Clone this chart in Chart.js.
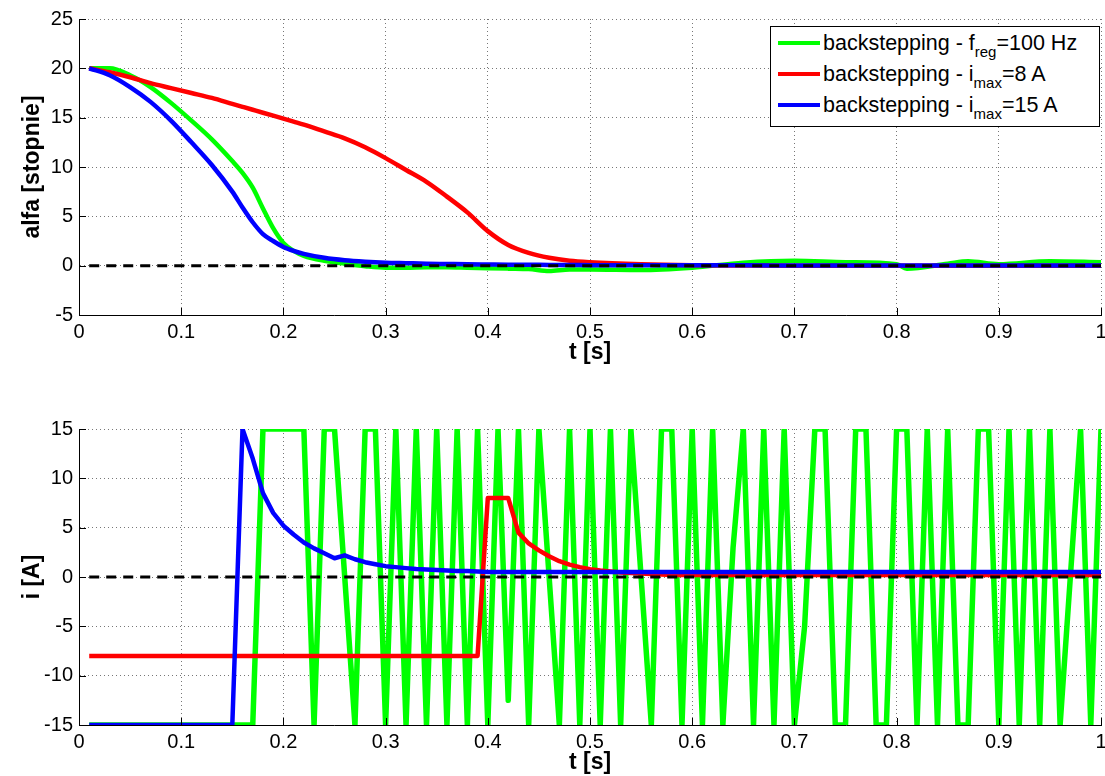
<!DOCTYPE html>
<html>
<head>
<meta charset="utf-8">
<script src="https://cdn.jsdelivr.net/npm/chart.js@4"></script>
<style>
  body { margin: 0; background: #fff; overflow: hidden; }
  #wrap { position: relative; width: 1105px; height: 776px; font-family: "Liberation Sans", Arial, sans-serif; }
  canvas { position: absolute; left: 0; }
  #alfaChart { top: 0; }
  #currentChart { top: 388px; }
  #legend { position: absolute; left: 770px; top: 26px; width: 330px; height: 101px; border: 1px solid #000; background: #fff; box-sizing: border-box; }
  .row { position: absolute; left: 7px; height: 31px; line-height: 31px; font-size: 21.5px; color: #000; white-space: nowrap; }
  .swatch { display: inline-block; width: 42px; height: 4px; margin-right: 3px; vertical-align: middle; position: relative; top: -1px; }
  .row sub { font-size: 15px; vertical-align: -7px; line-height: 0; }
</style>
</head>
<body>
<div id="wrap">
  <canvas id="alfaChart" width="1105" height="388"></canvas>
  <canvas id="currentChart" width="1105" height="388"></canvas>
  <div id="legend">
    <div class="row" style="top:1px"><span class="swatch" style="background:#00ff00"></span>backstepping - f<sub>reg</sub>=100 Hz</div>
    <div class="row" style="top:32px"><span class="swatch" style="background:#ff0000"></span>backstepping - i<sub>max</sub>=8 A</div>
    <div class="row" style="top:63px"><span class="swatch" style="background:#0000ff"></span>backstepping - i<sub>max</sub>=15 A</div>
  </div>
</div>
<script>
// --- kąt alfa [stopnie] ---
const tAlfa = [0.01, 0.03, 0.05, 0.07, 0.09, 0.11, 0.13, 0.15, 0.16, 0.17,
               0.18, 0.19, 0.20, 0.21, 0.22, 0.24, 0.26, 0.28, 0.30, 0.32,
               0.34, 0.36, 0.38, 0.40, 0.42, 0.44, 0.46, 0.48, 0.50, 0.55,
               0.60, 0.65, 0.70, 0.75, 0.80, 0.81, 0.85, 0.87, 0.90, 0.95, 1.00];
const alfaFreg100 = [20, 20.0, 19.3, 18.1, 16.5, 14.7, 12.8, 10.6, 9.4, 7.9,
                     5.8, 3.8, 2.3, 1.5, 1.0, 0.5, 0.2, -0.05, -0.2, -0.2,
                     -0.15, -0.15, -0.2, -0.25, -0.3, -0.35, -0.55, -0.4, -0.4, -0.45,
                     -0.2, 0.3, 0.5, 0.35, 0.15, -0.3, 0.2, 0.45, 0.15, 0.45, 0.35];
const alfaImax8 = [20, 19.6, 19.1, 18.5, 18.0, 17.5, 17.0, 16.4, 16.1, 15.8,
                   15.5, 15.2, 14.9, 14.6, 14.3, 13.6, 12.9, 12.0, 10.9, 9.7,
                   8.5, 7.0, 5.4, 3.5, 2.1, 1.3, 0.8, 0.5, 0.35, 0.15,
                   0.05, 0.02, 0, 0, 0, 0, 0, 0, 0, 0, 0];
const alfaImax15 = [20, 19.3, 18.1, 16.6, 14.7, 12.5, 10.2, 7.5, 5.9, 4.4,
                    3.2, 2.5, 1.9, 1.5, 1.2, 0.8, 0.55, 0.4, 0.3, 0.25,
                    0.2, 0.17, 0.14, 0.12, 0.1, 0.09, 0.08, 0.07, 0.05, 0.04,
                    0.03, 0.03, 0.02, 0.02, 0.02, 0.02, 0.02, 0.02, 0.02, 0.02, 0.02];

// --- prąd i [A] (próbki co 0.01 s) ---
const tCurrent = [0.01, 0.02, 0.03, 0.04, 0.05, 0.06, 0.07, 0.08, 0.09, 0.10,
                  0.11, 0.12, 0.13, 0.14, 0.15, 0.16, 0.17, 0.18, 0.19, 0.20,
                  0.21, 0.22, 0.23, 0.24, 0.25, 0.26, 0.27, 0.28, 0.29, 0.30,
                  0.31, 0.32, 0.33, 0.34, 0.35, 0.36, 0.37, 0.38, 0.39, 0.40,
                  0.41, 0.42, 0.43, 0.44, 0.45, 0.46, 0.47, 0.48, 0.49, 0.50,
                  0.51, 0.52, 0.53, 0.54, 0.55, 0.56, 0.57, 0.58, 0.59, 0.60,
                  0.61, 0.62, 0.63, 0.64, 0.65, 0.66, 0.67, 0.68, 0.69, 0.70,
                  0.71, 0.72, 0.73, 0.74, 0.75, 0.76, 0.77, 0.78, 0.79, 0.80,
                  0.81, 0.82, 0.83, 0.84, 0.85, 0.86, 0.87, 0.88, 0.89, 0.90,
                  0.91, 0.92, 0.93, 0.94, 0.95, 0.96, 0.97, 0.98, 0.99, 1.00];
const iFreg100 = [-15, -15, -15, -15, -15, -15, -15, -15, -15, -15,
                  -15, -15, -15, -15, -15, -15, -15, 15, 15, 15,
                  15, 15, -15, 15, 15, 0, -15, 15, 15, -15,
                  15, -15, 15, -15, 15, -15, 15, -15, 15, -15,
                  15, -12.5, 15, -15, 15, 0, -15, 15, -15, 15,
                  -15, 15, -15, 15, 0, -15, 15, 15, -15, 15,
                  -15, 15, -15, 3, 15, -15, 15, -15, 15, -15,
                  -5, 15, 15, -15, -15, 15, 15, -15, -15, 15,
                  15, -15, 15, -15, 15, -15, -15, 15, 15, -15,
                  15, -15, 15, -15, 15, -15, 0, 15, -15, 15];
const iImax8 = [-8, -8, -8, -8, -8, -8, -8, -8, -8, -8,
                -8, -8, -8, -8, -8, -8, -8, -8, -8, -8,
                -8, -8, -8, -8, -8, -8, -8, -8, -8, -8,
                -8, -8, -8, -8, -8, -8, -8, -8, -8, 8,
                8, 8, 4.5, 3.4, 2.7, 2.1, 1.6, 1.25, 1.0, 0.8,
                0.65, 0.55, 0.45, 0.4, 0.35, 0.3, 0.25, 0.2, 0.2, 0.2,
                0.2, 0.2, 0.2, 0.2, 0.2, 0.2, 0.2, 0.2, 0.2, 0.2,
                0.2, 0.2, 0.2, 0.2, 0.2, 0.2, 0.2, 0.2, 0.2, 0.2,
                0.2, 0.2, 0.2, 0.2, 0.2, 0.2, 0.2, 0.2, 0.2, 0.2,
                0.2, 0.2, 0.2, 0.2, 0.2, 0.2, 0.2, 0.2, 0.2, 0.2];
const iImax15 = [-15, -15, -15, -15, -15, -15, -15, -15, -15, -15,
                 -15, -15, -15, -15, -15, 15, 12, 8.5, 6.5, 5.2,
                 4.3, 3.5, 2.9, 2.4, 1.9, 2.2, 1.8, 1.5, 1.3, 1.1,
                 1.0, 0.9, 0.8, 0.75, 0.7, 0.65, 0.6, 0.6, 0.55, 0.5,
                 0.5, 0.5, 0.5, 0.5, 0.5, 0.5, 0.5, 0.5, 0.5, 0.5,
                 0.5, 0.5, 0.5, 0.5, 0.5, 0.5, 0.5, 0.5, 0.5, 0.5,
                 0.5, 0.5, 0.5, 0.5, 0.5, 0.5, 0.5, 0.5, 0.5, 0.5,
                 0.5, 0.5, 0.5, 0.5, 0.5, 0.5, 0.5, 0.5, 0.5, 0.5,
                 0.5, 0.5, 0.5, 0.5, 0.5, 0.5, 0.5, 0.5, 0.5, 0.5,
                 0.5, 0.5, 0.5, 0.5, 0.5, 0.5, 0.5, 0.5, 0.5, 0.5];

const zeroLine = [0.01, 1.00];

const GREEN = '#00ff00', RED = '#ff0000', BLUE = '#0000ff';
const FONT = '"Liberation Sans", Arial, sans-serif';

function pts(xs, ys) { return xs.map((x, i) => ({ x: x, y: ys[i] })); }

// ticki do środka osi, jak w MATLAB-ie
const innerTicks = {
  id: 'innerTicks',
  afterDraw(chart) {
    const { ctx, chartArea: a, scales: { x, y } } = chart;
    ctx.save();
    ctx.strokeStyle = '#000';
    ctx.lineWidth = 1;
    ctx.beginPath();
    y.ticks.forEach(t => {
      const py = Math.round(y.getPixelForValue(t.value)) + 0.5;
      ctx.moveTo(a.left, py); ctx.lineTo(a.left + 7, py);
    });
    x.ticks.forEach(t => {
      const px = Math.round(x.getPixelForValue(t.value)) + 0.5;
      ctx.moveTo(px, a.bottom); ctx.lineTo(px, a.bottom - 7);
    });
    ctx.stroke();
    ctx.restore();
  }
};

function makeOptions(yMin, yMax, yTitle, pad) {
  return {
    responsive: false,
    animation: false,
    layout: { padding: pad },
    plugins: { legend: { display: false }, tooltip: { enabled: false } },
    elements: { point: { radius: 0 } },
    scales: {
      x: {
        type: 'linear', min: 0, max: 1,
        afterFit(axis) { axis.height = 51; axis.paddingLeft = 0; axis.paddingRight = 0; },
        ticks: {
          stepSize: 0.1, padding: 5, color: '#000',
          font: { family: FONT, size: 20 },
          callback: v => String(Number(v.toFixed(1)))
        },
        grid: { color: '#777', lineWidth: 1, drawTicks: false },
        border: { color: '#000', width: 1, dash: [1, 3] },
        title: { display: true, text: 't [s]', color: '#000', padding: { top: 0, bottom: 0 },
                 font: { family: FONT, size: 23, weight: 'bold' } }
      },
      y: {
        min: yMin, max: yMax,
        afterFit(axis) { axis.width = 79; },
        ticks: { stepSize: 5, padding: 6, color: '#000', font: { family: FONT, size: 20 } },
        grid: { color: '#777', lineWidth: 1, drawTicks: false },
        border: { color: '#000', width: 1, dash: [1, 3] },
        title: { display: true, text: yTitle, color: '#000', padding: { top: 19, bottom: 0 },
                 font: { family: FONT, size: 23, weight: 'bold' } }
      }
    }
  };
}

function lineSet(data, color, order, extra) {
  return Object.assign({ data: data, borderColor: color, borderWidth: 4.5, fill: false,
                         order: order, clip: 0, borderJoinStyle: 'round' }, extra || {});
}

new Chart(document.getElementById('alfaChart'), {
  type: 'line',
  data: {
    datasets: [
      lineSet(pts(zeroLine, [0, 0]), '#000', 0, { borderWidth: 3, borderDash: [10, 7], borderJoinStyle: 'miter' }),
      lineSet(pts(tAlfa, alfaImax15), BLUE, 1, { cubicInterpolationMode: 'monotone' }),
      lineSet(pts(tAlfa, alfaImax8), RED, 2, { cubicInterpolationMode: 'monotone' }),
      lineSet(pts(tAlfa, alfaFreg100), GREEN, 3, { cubicInterpolationMode: 'monotone' })
    ]
  },
  options: makeOptions(-5, 25, 'alfa [stopnie]', { left: 0, top: 19, right: 4, bottom: 22 }),
  plugins: [innerTicks]
});

new Chart(document.getElementById('currentChart'), {
  type: 'line',
  data: {
    datasets: [
      lineSet(pts(zeroLine, [0, 0]), '#000', 0, { borderWidth: 3, borderDash: [10, 7], borderJoinStyle: 'miter' }),
      lineSet(pts(tCurrent, iImax15), BLUE, 1),
      lineSet(pts(tCurrent, iImax8), RED, 2),
      lineSet(pts(tCurrent, iFreg100), GREEN, 3, { borderWidth: 5.5 })
    ]
  },
  options: makeOptions(-15, 15, 'i [A]', { left: 0, top: 41, right: 4, bottom: 0 }),
  plugins: [innerTicks]
});
</script>
</body>
</html>
